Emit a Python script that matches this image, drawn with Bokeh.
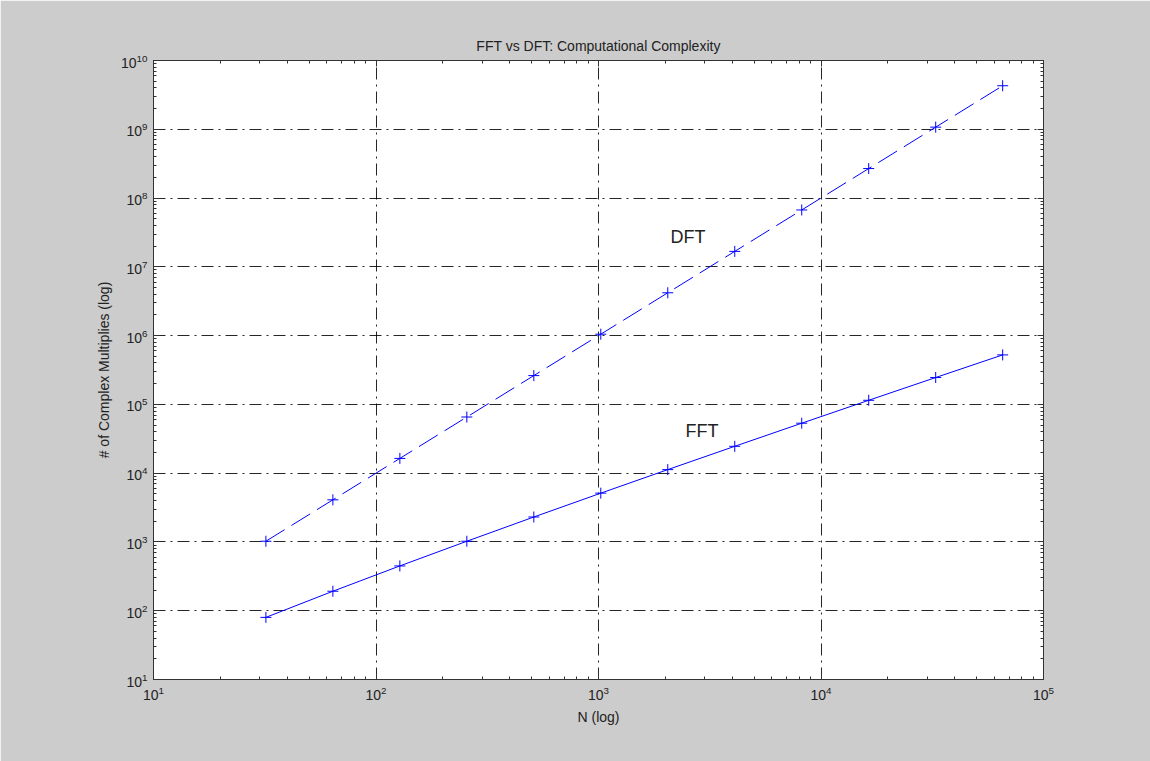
from bokeh.plotting import figure
from bokeh.models import LogAxis, FixedTicker, ColumnDataSource, Label
from bokeh.embed import file_html
from bokeh.resources import INLINE

# Data
N = [32, 64, 128, 256, 512, 1024, 2048, 4096, 8192, 16384, 32768, 65536]
dft = [1024, 4096, 16384, 65536, 262144, 1048576, 4194304, 16777216,
       67108864, 268435456, 1073741824, 4294967296]
fft = [80, 192, 448, 1024, 2304, 5120, 11264, 24576, 53248, 114688,
       245760, 524288]

x_major = [10, 100, 1000, 10000, 100000]
y_major = [10 ** k for k in range(1, 11)]
x_minor = [m * 10 ** k for k in range(1, 5) for m in range(2, 10)]
y_minor = [m * 10 ** k for k in range(1, 10) for m in range(2, 10)]

FONT = "Liberation Sans"
BG = "#cccccc"

p = figure(width=1150, height=761, x_axis_type="log", y_axis_type="log",
           x_range=(10, 100000), y_range=(10, 1e10),
           output_backend="svg", toolbar_location=None,
           title="FFT vs DFT: Computational Complexity",
           min_border_left=153, min_border_right=107,
           min_border_top=60, min_border_bottom=82)
p.border_fill_color = BG
p.background_fill_color = "white"
p.outline_line_color = "#333333"
p.outline_line_width = 1

p.title.align = "center"
p.title.text_font = FONT
p.title.text_font_size = "14px"
p.title.text_font_style = "normal"
p.title.text_color = "#222222"
p.title.standoff = 13

xt = FixedTicker(ticks=x_major, minor_ticks=x_minor)
yt = FixedTicker(ticks=y_major, minor_ticks=y_minor)


def style_axis(ax, ticker, labels=True):
    ax.ticker = ticker
    ax.axis_line_color = "#333333"
    ax.major_tick_line_color = "#333333"
    ax.minor_tick_line_color = "#333333"
    ax.major_tick_in = 6
    ax.major_tick_out = 0
    ax.minor_tick_in = 3
    ax.minor_tick_out = 0
    ax.major_label_text_font = FONT
    ax.major_label_text_color = "#222222"
    if labels:
        ax.major_label_text_font_size = "14px"
    else:
        ax.major_label_text_font_size = "0px"
        ax.major_label_text_alpha = 0


style_axis(p.xaxis[0], xt)
style_axis(p.yaxis[0], yt)
p.xaxis[0].major_label_standoff = 6
p.yaxis[0].major_label_standoff = 6
p.xaxis[0].axis_label = "N (log)"
p.yaxis[0].axis_label = "# of Complex Multiplies (log)"
for ax in (p.xaxis[0], p.yaxis[0]):
    ax.axis_label_text_font = FONT
    ax.axis_label_text_font_size = "14px"
    ax.axis_label_text_font_style = "normal"
    ax.axis_label_text_color = "#222222"
    ax.axis_label_standoff = 6

top = LogAxis()
style_axis(top, xt, labels=False)
p.add_layout(top, "above")
right = LogAxis()
style_axis(right, yt, labels=False)
p.add_layout(right, "right")

for g, t in ((p.xgrid[0], xt), (p.ygrid[0], yt)):
    g.ticker = t
    g.grid_line_color = "black"
    g.grid_line_alpha = 0.85
    g.grid_line_dash = "12 5 2 5"
    g.grid_line_width = 1

src = ColumnDataSource(dict(N=N, dft=dft, fft=fft))
p.line("N", "dft", source=src, line_color="blue", line_dash="22 8", line_width=1)
p.line("N", "fft", source=src, line_color="blue", line_width=1)
p.scatter("N", "dft", source=src, marker="cross", size=11, line_color="blue", line_width=1)
p.scatter("N", "fft", source=src, marker="cross", size=11, line_color="blue", line_width=1)

p.add_layout(Label(x=2107, y=2.76e7, text="DFT", text_font=FONT, text_font_size="18px",
                   text_baseline="middle", text_color="#222222"))
p.add_layout(Label(x=2460, y=4.1e4, text="FFT", text_font=FONT, text_font_size="18px",
                   text_baseline="middle", text_color="#222222"))

open("out.html", "w").write(file_html(p, INLINE))
